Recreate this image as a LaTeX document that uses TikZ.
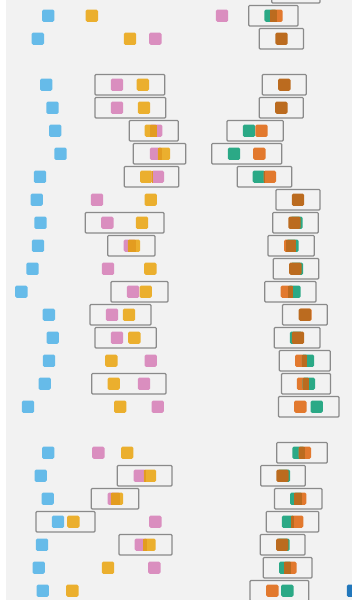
\documentclass[tikz,border=0pt]{standalone}
\usepackage{tikz}
\definecolor{bgc}{HTML}{F2F2F2}
\definecolor{bluec}{HTML}{66BBE9}
\definecolor{amberc}{HTML}{EBAF2E}
\definecolor{pinkc}{HTML}{DA8EBF}
\definecolor{darkamber}{HTML}{E39C20}
\definecolor{greenc}{HTML}{2BA986}
\definecolor{orangec}{HTML}{E2792E}
\definecolor{brownc}{HTML}{BB6B1F}
\definecolor{boxgray}{HTML}{8A8A8A}
\definecolor{navyc}{HTML}{2277BB}
\tikzset{
  sqr/.style={rounded corners=1.6pt},
  boxst/.style={draw=boxgray, line width=1.2pt, rounded corners=1pt}
}
\newcommand{\mysq}[3]{\fill[sqr,#1] ({#2-6.2},{#3-6.2}) rectangle ({#2+6.2},{#3+6.2});}
\newcommand{\myov}[4]{\fill[#1] (#2,{#4-6.2}) rectangle (#3,{#4+6.2});}
\newcommand{\mybx}[3]{\draw[boxst] (#1,{#3-10.3}) rectangle (#2,{#3+10.3});}
\begin{document}
\begin{tikzpicture}[x=1pt,y=-1pt]
\useasboundingbox (0,0) rectangle (352,600);
\clip (0,0) rectangle (352,600);
\fill[bgc] (0,0) rectangle (352,600);
\fill[white] (0,0) rectangle (6,600);
% row -1 (partial)
\mybx{271.7}{320}{-7.3}
% row 0
\mysq{bluec}{48.2}{15.7} \mysq{amberc}{91.8}{15.7} \mysq{pinkc}{222}{15.7}
\mysq{greenc}{270.5}{15.7} \mysq{orangec}{276.5}{15.7} \myov{brownc}{270.3}{276.7}{15.7}
\mybx{248.7}{298}{15.7}
% row 1
\mysq{bluec}{37.8}{38.7} \mysq{amberc}{130}{38.7} \mysq{pinkc}{155.3}{38.7}
\mysq{brownc}{281.5}{38.7}
\mybx{259.3}{303.5}{38.7}
% row 3
\mysq{bluec}{46.2}{84.7} \mysq{pinkc}{117}{84.7} \mysq{amberc}{142.8}{84.7}
\mybx{95}{164.7}{84.7}
\mysq{brownc}{284.3}{84.7}
\mybx{262.3}{306.3}{84.7}
% row 4
\mysq{bluec}{52.5}{107.7} \mysq{pinkc}{117}{107.7} \mysq{amberc}{144}{107.7}
\mybx{95}{165.7}{107.7}
\mysq{brownc}{281.3}{107.7}
\mybx{259.3}{303.3}{107.7}
% row 5
\mysq{bluec}{55.2}{130.7} \mysq{amberc}{150.8}{130.7} \mysq{pinkc}{156.2}{130.7} \myov{darkamber}{150}{157}{130.7}
\mybx{129.3}{178.3}{130.7}
\mysq{greenc}{249}{130.7} \mysq{orangec}{261.5}{130.7}
\mybx{227}{283.3}{130.7}
% row 6
\mysq{bluec}{60.5}{153.7} \mysq{pinkc}{156}{153.7} \mysq{amberc}{164}{153.7} \myov{darkamber}{157.8}{162.2}{153.7}
\mybx{133.3}{185.7}{153.7}
\mysq{greenc}{234}{153.7} \mysq{orangec}{259.3}{153.7}
\mybx{211.7}{281.7}{153.7}
% row 7
\mysq{bluec}{40}{176.7} \mysq{amberc}{146.2}{176.7} \mysq{pinkc}{157.8}{176.7} \myov{darkamber}{151.6}{152.4}{176.7}
\mybx{124.3}{178.7}{176.7}
\mysq{greenc}{258.8}{176.7} \mysq{orangec}{269.8}{176.7} \myov{brownc}{263.6}{265}{176.7}
\mybx{237.3}{291.7}{176.7}
% row 8
\mysq{bluec}{36.7}{199.7} \mysq{pinkc}{97}{199.7} \mysq{amberc}{150.7}{199.7}
\mysq{brownc}{298}{199.7}
\mybx{276}{320}{199.7}
% row 9
\mysq{bluec}{40.5}{222.7} \mysq{pinkc}{107.3}{222.7} \mysq{amberc}{142}{222.7}
\mybx{85.3}{164}{222.7}
\mysq{greenc}{296.5}{222.7} \mysq{brownc}{294.5}{222.7}
\mybx{272.7}{318.3}{222.7}
% row 10
\mysq{bluec}{38}{245.7} \mysq{pinkc}{129.8}{245.7} \mysq{amberc}{134}{245.7} \myov{darkamber}{127.8}{136}{245.7}
\mybx{107.7}{155}{245.7}
\mysq{orangec}{290.2}{245.7} \mysq{greenc}{292.5}{245.7} \myov{brownc}{286.4}{296.4}{245.7}
\mybx{268}{314.3}{245.7}
% row 11
\mysq{bluec}{32.5}{268.7} \mysq{pinkc}{108}{268.7} \mysq{amberc}{150.3}{268.7}
\mysq{greenc}{297}{268.7} \mysq{brownc}{295.3}{268.7}
\mybx{273.3}{318.7}{268.7}
% row 12
\mysq{bluec}{21.3}{291.7} \mysq{pinkc}{133}{291.7} \mysq{amberc}{145.7}{291.7}
\mybx{111}{168}{291.7}
\mysq{orangec}{286.8}{291.7} \mysq{greenc}{294.5}{291.7} \myov{brownc}{288.3}{293}{291.7}
\mybx{264.7}{316}{291.7}
% row 13
\mysq{bluec}{48.8}{314.7} \mysq{pinkc}{112}{314.7} \mysq{amberc}{129}{314.7}
\mybx{90}{151}{314.7}
\mysq{orangec}{305.5}{314.7} \mysq{brownc}{304.8}{314.7}
\mybx{282.5}{327.3}{314.7}
% row 14
\mysq{bluec}{52.7}{337.7} \mysq{pinkc}{117}{337.7} \mysq{amberc}{134.3}{337.7}
\mybx{95}{156.3}{337.7}
\mysq{greenc}{296}{337.7} \mysq{brownc}{298}{337.7}
\mybx{274.3}{320}{337.7}
% row 15
\mysq{bluec}{49}{360.7} \mysq{amberc}{111.3}{360.7} \mysq{pinkc}{150.7}{360.7}
\mysq{orangec}{301.2}{360.7} \mysq{greenc}{308}{360.7} \myov{brownc}{301.8}{307.4}{360.7}
\mybx{279.3}{330.3}{360.7}
% row 16
\mysq{bluec}{44.7}{383.7} \mysq{amberc}{113.7}{383.7} \mysq{pinkc}{144}{383.7}
\mybx{91.7}{166}{383.7}
\mysq{orangec}{303}{383.7} \mysq{greenc}{308.8}{383.7} \myov{brownc}{302.6}{309.2}{383.7}
\mybx{281.5}{330.5}{383.7}
% row 17
\mysq{bluec}{28}{406.7} \mysq{amberc}{120.2}{406.7} \mysq{pinkc}{157.7}{406.7}
\mysq{orangec}{300.3}{406.7} \mysq{greenc}{316.7}{406.7}
\mybx{278.5}{339}{406.7}
% row 18
\mysq{bluec}{48.2}{452.7} \mysq{pinkc}{98.3}{452.7} \mysq{amberc}{127.2}{452.7}
\mysq{greenc}{298.5}{452.7} \mysq{orangec}{304.8}{452.7} \myov{brownc}{298.6}{304.7}{452.7}
\mybx{276.7}{327.3}{452.7}
% row 19
\mysq{bluec}{40.7}{475.7} \mysq{pinkc}{139.7}{475.7} \mysq{amberc}{150}{475.7} \myov{darkamber}{143.8}{145.9}{475.7}
\mybx{117.3}{172}{475.7}
\mysq{greenc}{284}{475.7} \mysq{brownc}{282.5}{475.7}
\mybx{260.7}{305.3}{475.7}
% row 20
\mysq{bluec}{47.7}{498.7} \mysq{pinkc}{113.7}{498.7} \mysq{amberc}{117}{498.7} \myov{darkamber}{110.8}{119.9}{498.7}
\mybx{91.3}{138.7}{498.7}
\mysq{greenc}{296.2}{498.7} \mysq{orangec}{300.2}{498.7} \myov{brownc}{294}{302.4}{498.7}
\mybx{274.5}{322}{498.7}
% row 21
\mysq{bluec}{58}{521.7} \mysq{amberc}{73.3}{521.7} \mysq{pinkc}{155.3}{521.7}
\mybx{36}{95}{521.7}
\mysq{greenc}{288}{521.7} \mysq{orangec}{297.2}{521.7} \myov{brownc}{291}{294.2}{521.7}
\mybx{266.2}{318.8}{521.7}
% row 22
\mysq{bluec}{42}{544.7} \mysq{pinkc}{140.8}{544.7} \mysq{amberc}{149.5}{544.7} \myov{darkamber}{143.3}{147}{544.7}
\mybx{119}{172}{544.7}
\mysq{greenc}{283.5}{544.7} \mysq{brownc}{282.2}{544.7}
\mybx{260.3}{305}{544.7}
% row 23
\mysq{bluec}{38.7}{567.7} \mysq{amberc}{108}{567.7} \mysq{pinkc}{154.3}{567.7}
\mysq{greenc}{285.2}{567.7} \mysq{orangec}{290.3}{567.7} \myov{brownc}{284.1}{291.4}{567.7}
\mybx{263.3}{312}{567.7}
% row 24
\mysq{bluec}{42.7}{590.7} \mysq{amberc}{72.3}{590.7}
\mysq{orangec}{272.3}{590.7} \mysq{greenc}{287.3}{590.7}
\mybx{250}{308.7}{590.7}
\mysq{navyc}{353}{590.7}
\end{tikzpicture}
\end{document}
